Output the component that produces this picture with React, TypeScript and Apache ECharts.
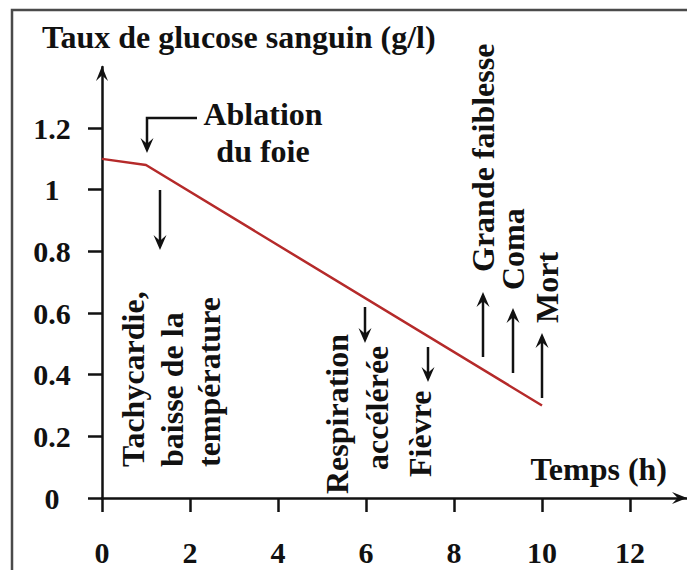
import React, { useEffect, useRef } from "react";
import * as echarts from "echarts";

// ---- data ----
const timeHours = [0, 1, 10];
const glucoseLevels = [1.1, 1.08, 0.3];

const xTickValues = [0, 2, 4, 6, 8, 10, 12];
const xTickLabels = ["0", "2", "4", "6", "8", "10", "12"];
const yTickValues = [0, 0.2, 0.4, 0.6, 0.8, 1, 1.2];
const yTickLabels = ["0", "0.2", "0.4", "0.6", "0.8", "1", "1.2"];

const titleText = "Taux de glucose sanguin (g/l)";
const xAxisTitle = "Temps (h)";

const verticalNotes = [
  "Tachycardie,",
  "baisse de la",
  "température",
  "Respiration",
  "accélérée",
  "Fièvre",
  "Grande faiblesse",
  "Coma",
  "Mort",
];

// ---- layout (pixels) ----
const W = 687;
const H = 570;
const X0 = 102; // pixel of t = 0
const Y0 = 498; // pixel of glucose = 0
const X_END = 687;
const Y_END = 67;
const X_UNIT = 44;
const Y_UNIT = 308.3;

const FONT = "'Liberation Serif', 'Times New Roman', serif";
const INK = "#111111";
const LW = 2.5;

const verticalPos: [number, number][] = [
  [133, 467],
  [172, 467],
  [209, 467],
  [337, 494],
  [377, 470],
  [420, 477],
  [483, 272],
  [513, 290],
  [547, 323],
];

function textEl(text: string, x: number, y: number, align: string, rot = 0, size = 32) {
  return {
    type: "text",
    x,
    y,
    rotation: rot,
    silent: true,
    style: {
      text,
      x: 0,
      y: 0,
      fill: INK,
      font: `bold ${size}px ${FONT}`,
      textAlign: align,
      textVerticalAlign: "middle",
      verticalAlign: "middle",
    },
  };
}

function head(x: number, y: number, dir: "up" | "down" | "right", len = 15, half = 6.5) {
  let pts: number[][];
  if (dir === "down") pts = [[x, y], [x - half, y - len], [x, y - len * 0.62], [x + half, y - len]];
  else if (dir === "up") pts = [[x, y], [x - half, y + len], [x, y + len * 0.62], [x + half, y + len]];
  else pts = [[x, y], [x - len, y - half], [x - len * 0.62, y], [x - len, y + half]];
  return { type: "polygon", silent: true, shape: { points: pts }, style: { fill: INK } };
}

function shaft(points: number[][]) {
  return {
    type: "polyline",
    silent: true,
    shape: { points },
    style: { stroke: INK, lineWidth: LW, fill: "none" },
  };
}

function vArrow(x: number, from: number, to: number) {
  const dir = to > from ? "down" : "up";
  const stop = dir === "down" ? to - 8 : to + 8;
  return [shaft([[x, from], [x, stop]]), head(x, to, dir)];
}

export default function App() {
  const ref = useRef<HTMLDivElement>(null);

  useEffect(() => {
    if (!ref.current) return;
    const chart = echarts.init(ref.current, undefined, { renderer: "svg" });

    const graphics: any[] = [
      // frame
      {
        type: "rect",
        silent: true,
        shape: { x: 12, y: 10, width: 800, height: 700 },
        style: { fill: "none", stroke: "#4a4a4a", lineWidth: 2.5 },
      },
      textEl(titleText, 42, 37, "left"),
      textEl("Ablation", 263, 114, "center"),
      textEl("du foie", 263, 151, "center"),
      textEl(xAxisTitle, 667, 469, "right"),
      // axis arrowheads
      head(X0, Y_END - 1, "up", 15, 6),
      head(X_END, Y0, "right", 15, 6),
      // ablation arrow
      shaft([[197, 118], [147, 118], [147, 145]]),
      head(147, 153, "down"),
      ...vArrow(160, 190, 250),
      ...vArrow(365, 307, 343),
      ...vArrow(428, 347, 382),
      ...vArrow(483, 357, 292),
      ...vArrow(513, 373, 308),
      ...vArrow(542, 398, 333),
    ];
    verticalNotes.forEach((t, i) => {
      const [x, y] = verticalPos[i];
      graphics.push(textEl(t, x, y, "left", Math.PI / 2));
    });

    const labelFmt = (vals: number[], labels: string[]) => (v: number) => {
      const i = vals.findIndex((t) => Math.abs(t - v) < 1e-6);
      return i >= 0 ? labels[i] : "";
    };

    chart.setOption({
      animation: false,
      backgroundColor: "#ffffff",
      grid: {
        left: X0,
        top: Y_END,
        width: X_END - X0,
        height: Y0 - Y_END,
        containLabel: false,
      },
      xAxis: {
        type: "value",
        min: 0,
        max: (X_END - X0) / X_UNIT,
        axisLine: { show: true, onZero: false, lineStyle: { color: INK, width: LW } },
        axisTick: { show: true, length: 14, customValues: xTickValues, lineStyle: { color: INK, width: LW } },
        axisLabel: {
          customValues: xTickValues,
          formatter: labelFmt(xTickValues, xTickLabels),
          margin: 54,
          verticalAlign: "middle",
          color: INK,
          fontFamily: FONT,
          fontWeight: "bold",
          fontSize: 30,
        },
        splitLine: { show: false },
      },
      yAxis: {
        type: "value",
        min: 0,
        max: (Y0 - Y_END) / Y_UNIT,
        axisLine: { show: true, onZero: false, lineStyle: { color: INK, width: LW } },
        axisTick: { show: true, length: 14, customValues: yTickValues, lineStyle: { color: INK, width: LW } },
        axisLabel: {
          customValues: yTickValues,
          formatter: labelFmt(yTickValues, yTickLabels),
          margin: 50,
          align: "center",
          verticalAlign: "middle",
          color: INK,
          fontFamily: FONT,
          fontWeight: "bold",
          fontSize: 30,
        },
        splitLine: { show: false },
      },
      series: [
        {
          type: "line",
          data: timeHours.map((t, i) => [t, glucoseLevels[i]]),
          showSymbol: false,
          symbol: "none",
          lineStyle: { color: "#b52a2a", width: 2.5 },
          z: 3,
        },
      ],
      graphic: graphics,
    });

    return () => chart.dispose();
  }, []);

  return (
    <div
      ref={ref}
      style={{ position: "fixed", left: 0, top: 0, width: W, height: H, background: "#fff" }}
    />
  );
}
